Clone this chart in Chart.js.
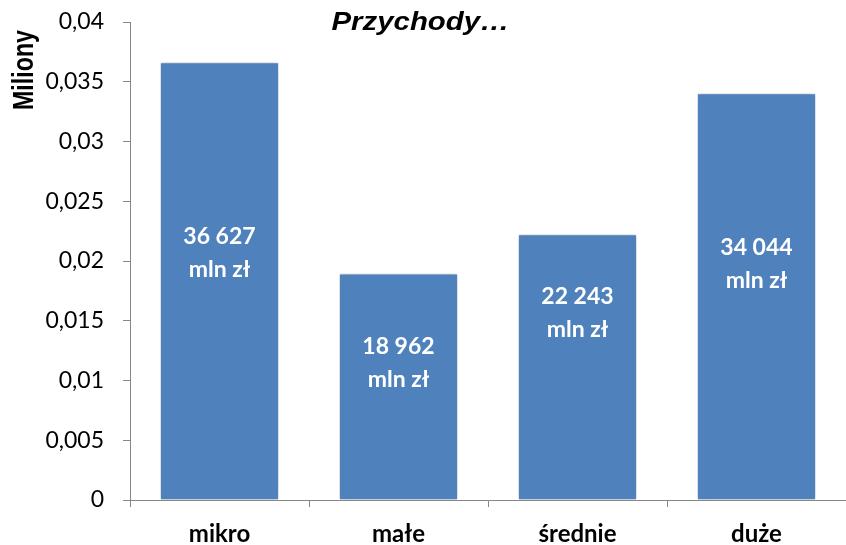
<!DOCTYPE html>
<html><head><meta charset="utf-8">
<script src="https://cdn.jsdelivr.net/npm/chart.js@4.4.1/dist/chart.umd.min.js"></script>
<style>html,body{margin:0;padding:0;background:#fff;}#wrap{width:846px;height:545px;position:relative}</style>
</head><body><div id="wrap"><canvas id="c" width="846" height="545"></canvas></div>
<script>
// ---- data ----
const categories = ['mikro', 'małe', 'średnie', 'duże'];
const revenue = [0.036627, 0.018962, 0.022243, 0.034044]; // in "Miliony" (axis unit)
const yTickLabels = ['0', '0,005', '0,01', '0,015', '0,02', '0,025', '0,03', '0,035', '0,04'];
const unitLabel = 'mln zł';
const titleText = 'Przychody…';
const yTitleText = 'Miliony';

// label placement (value on y axis where each two-line label is centred)
const labelCenters = [0.02075, 0.01155, 0.01573, 0.01987];

function fmtThousands(v) {
  return String(Math.round(v * 1e6)).replace(/\B(?=(\d{3})+(?!\d))/g, ' ');
}

const AXIS = '#868686';

const shadowPlugin = {
  id: 'barShadow',
  beforeDatasetsDraw(chart) {
    const ctx = chart.ctx;
    ctx.save();
    ctx.shadowColor = 'rgba(0,0,0,0.30)';
    ctx.shadowBlur = 5;
    ctx.shadowOffsetX = 0;
    ctx.shadowOffsetY = 0;
  },
  afterDatasetsDraw(chart) {
    chart.ctx.restore();
  }
};

const labelPlugin = {
  id: 'barLabels',
  afterDraw(chart) {
    const ctx = chart.ctx;
    const meta = chart.getDatasetMeta(0);
    const yS = chart.scales.y;
    ctx.save();
    ctx.fillStyle = '#ffffff';
    ctx.font = 'bold 23px Lato';
    ctx.textAlign = 'center';
    ctx.textBaseline = 'alphabetic';
    meta.data.forEach((bar, i) => {
      const cy = yS.getPixelForValue(labelCenters[i]);
      ctx.fillText(fmtThousands(revenue[i]), bar.x, cy - 8);
      ctx.fillText(unitLabel, bar.x, cy + 25);
    });
    ctx.restore();

    // title (overlaid, like the original)
    ctx.save();
    ctx.fillStyle = '#000';
    ctx.font = 'italic bold 26px "Liberation Sans", Arial, sans-serif';
    ctx.textAlign = 'center';
    ctx.textBaseline = 'alphabetic';
    ctx.translate(420.5, 30);
    ctx.scale(1.13, 1);
    ctx.fillText(titleText, 0, 0);
    ctx.restore();

    // y axis title
    ctx.save();
    ctx.fillStyle = '#000';
    ctx.font = 'bold 30px "Liberation Sans", Arial, sans-serif';
    ctx.textAlign = 'center';
    ctx.textBaseline = 'middle';
    ctx.translate(25, 70);
    ctx.rotate(-Math.PI / 2);
    ctx.scale(0.775, 1);
    ctx.fillText(yTitleText, 0, 0);
    ctx.restore();
  }
};

new Chart(document.getElementById('c'), {
  type: 'bar',
  data: {
    labels: categories,
    datasets: [{
      data: revenue,
      backgroundColor: '#4f81bd',
      borderColor: 'rgba(255,255,255,0.55)',
      borderWidth: 1,
      categoryPercentage: 1,
      barPercentage: 0.665
    }]
  },
  options: {
    responsive: false,
    devicePixelRatio: 1,
    animation: false,
    layout: { padding: { top: 22, right: 0, bottom: 0, left: 0 } },
    plugins: {
      legend: { display: false },
      tooltip: { enabled: false },
      title: { display: false }
    },
    scales: {
      x: {
        grid: { display: true, drawOnChartArea: false, drawTicks: true, tickLength: 7, color: AXIS, offset: true },
        border: { display: true, color: AXIS, width: 1 },
        ticks: { color: '#000', font: { family: 'Lato', size: 24, weight: 'bold' }, padding: 13, maxRotation: 0 },
        afterFit(s) { s.height = 45; }
      },
      y: {
        min: 0,
        max: 0.04,
        grid: { display: true, drawOnChartArea: false, drawTicks: true, tickLength: 7, color: AXIS },
        border: { display: true, color: AXIS, width: 1 },
        ticks: {
          stepSize: 0.005,
          color: '#000',
          font: { family: 'Lato', size: 23 },
          padding: 19,
          callback: (v) => yTickLabels[Math.round(v / 0.005)]
        },
        afterFit(s) { s.width = 130; s.paddingTop = 0; s.paddingBottom = 0; }
      }
    }
  },
  plugins: [shadowPlugin, labelPlugin]
});
</script>
</body></html>
